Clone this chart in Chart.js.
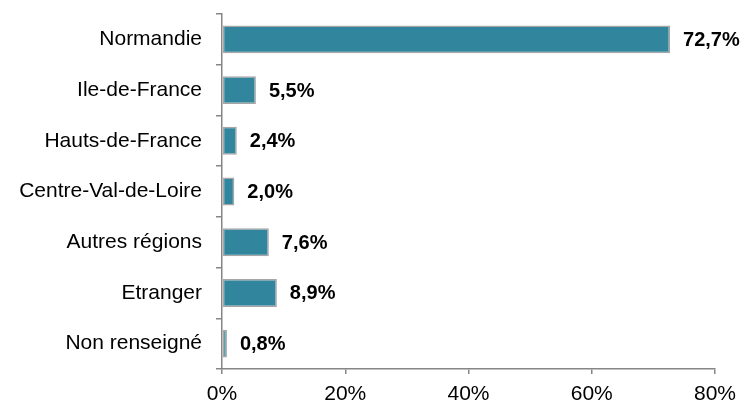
<!DOCTYPE html>
<html>
<head>
<meta charset="utf-8">
<script src="https://cdn.jsdelivr.net/npm/chart.js@4/dist/chart.umd.min.js"></script>
<style>
  html, body { margin: 0; padding: 0; background: #fff; }
  #wrap { width: 741px; height: 402px; }
</style>
</head>
<body>
<div id="wrap"><canvas id="chart" width="741" height="402"></canvas></div>
<script>
var regions = ["Normandie", "Ile-de-France", "Hauts-de-France", "Centre-Val-de-Loire", "Autres régions", "Etranger", "Non renseigné"];
var shares = [72.7, 5.5, 2.4, 2.0, 7.6, 8.9, 0.8];
var xTicks = [0, 20, 40, 60, 80];

var axisGray = "#868686";

function formatPct(v) {
    return v.toFixed(1).replace(".", ",") + "%";
}

var valueLabels = {
    id: "valueLabels",
    afterDatasetsDraw: function (chart) {
        var ctx = chart.ctx;
        var meta = chart.getDatasetMeta(0);
        ctx.save();
        ctx.font = "bold 20px 'Liberation Sans', Arial, sans-serif";
        ctx.fillStyle = "#000";
        ctx.textAlign = "left";
        ctx.textBaseline = "middle";
        meta.data.forEach(function (bar, i) {
            ctx.fillText(formatPct(shares[i]), bar.x + 13, bar.y + 1);
        });
        ctx.restore();
    }
};

var ctx = document.getElementById("chart").getContext("2d");
var myChart = new Chart(ctx, {
    type: "bar",
    data: {
        labels: regions,
        datasets: [{
            data: shares,
            backgroundColor: "#31859C",
            borderColor: "#A6A6A6",
            borderWidth: 1.5,
            borderSkipped: false,
            barPercentage: 0.55,
            categoryPercentage: 1
        }]
    },
    options: {
        indexAxis: "y",
        responsive: false,
        animation: false,
        layout: { padding: { top: 14, right: 26, left: 0, bottom: 0 } },
        plugins: {
            legend: { display: false },
            tooltip: { enabled: false }
        },
        scales: {
            x: {
                min: 0,
                max: 80,
                afterBuildTicks: function (scale) {
                    scale.ticks = xTicks.map(function (v) { return { value: v }; });
                },
                afterFit: function (scale) {
                    scale.height = 33;
                    scale.paddingRight = 0;
                },
                grid: { drawOnChartArea: false, drawTicks: true, tickLength: 5, color: axisGray, lineWidth: 1.5 },
                border: { color: axisGray, width: 1.5 },
                ticks: {
                    padding: 8,
                    color: "#000",
                    font: { family: "'Liberation Sans', Arial, sans-serif", size: 21 },
                    callback: function (v) { return v + "%"; }
                }
            },
            y: {
                afterFit: function (scale) {
                    scale.width = 222;
                    scale.paddingTop = 0;
                    scale.paddingBottom = 0;
                },
                grid: { drawOnChartArea: false, drawTicks: true, tickLength: 6, color: axisGray, lineWidth: 1.5, offset: true },
                border: { color: axisGray, width: 1.5 },
                ticks: {
                    padding: 14,
                    color: "#000",
                    font: { family: "'Liberation Sans', Arial, sans-serif", size: 21 }
                }
            }
        }
    },
    plugins: [valueLabels]
});
</script>
</body>
</html>
